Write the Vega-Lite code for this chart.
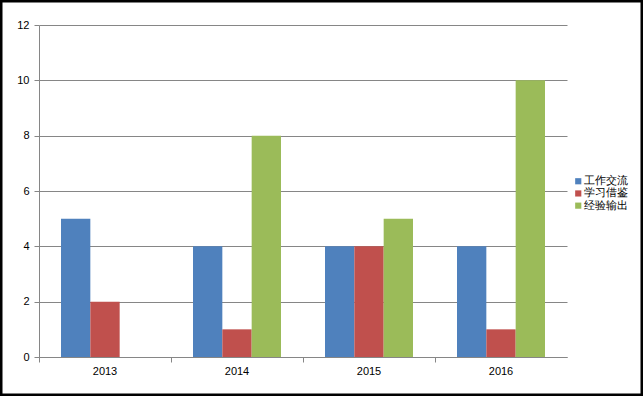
{
  "$schema": "https://vega.github.io/schema/vega-lite/v6.json",
  "width": 528,
  "height": 332,
  "autosize": {"type": "none"},
  "padding": {"left": 39, "top": 25, "right": 76, "bottom": 39},
  "background": "white",
  "config": {
    "view": {"stroke": null},
    "font": "Liberation Sans",
    "axis": {"labelFont": "Liberation Sans", "labelFontSize": 11, "labelColor": "#000000", "domainColor": "#868686", "tickColor": "#868686", "gridColor": "#868686", "gridOpacity": 1, "domainWidth": 1, "tickWidth": 1}
  },
  "datasets": {
    "bars": [
      {"year": "2013", "series": "工作交流", "value": 5},
      {"year": "2013", "series": "学习借鉴", "value": 2},
      {"year": "2014", "series": "工作交流", "value": 4},
      {"year": "2014", "series": "学习借鉴", "value": 1},
      {"year": "2014", "series": "经验输出", "value": 8},
      {"year": "2015", "series": "工作交流", "value": 4},
      {"year": "2015", "series": "学习借鉴", "value": 4},
      {"year": "2015", "series": "经验输出", "value": 5},
      {"year": "2016", "series": "工作交流", "value": 4},
      {"year": "2016", "series": "学习借鉴", "value": 1},
      {"year": "2016", "series": "经验输出", "value": 10}
    ]
  },
  "layer": [
    {
      "data": {"values": [{"frame": 1}]},
      "mark": {"type": "rect", "fill": null, "stroke": "#000000", "strokeWidth": 2.5},
      "encoding": {
        "x": {"value": -37.75},
        "x2": {"value": 602.75},
        "y": {"value": -23.75},
        "y2": {"value": 369.75}
      }
    },
    {
      "data": {"name": "bars"},
      "mark": {"type": "bar"},
      "encoding": {
        "x": {
          "field": "year",
          "type": "nominal",
          "scale": {"paddingInner": 0, "paddingOuter": 0},
          "axis": {"title": null, "labelAngle": 0, "bandPosition": 0, "tickSize": 5, "labelPadding": 3, "grid": false}
        },
        "xOffset": {
          "field": "series",
          "type": "nominal",
          "scale": {"domain": ["工作交流", "学习借鉴", "经验输出"], "paddingInner": 0, "paddingOuter": 0.75}
        },
        "y": {
          "field": "value",
          "type": "quantitative",
          "scale": {"domain": [0, 12], "nice": false},
          "axis": {"title": null, "values": [0, 2, 4, 6, 8, 10, 12], "grid": true, "tickSize": 5, "labelPadding": 5}
        },
        "color": {
          "field": "series",
          "type": "nominal",
          "scale": {"domain": ["工作交流", "学习借鉴", "经验输出"], "range": ["#4F81BD", "#C0504D", "#9BBB59"]},
          "legend": {"title": null, "orient": "none", "legendX": 534, "legendY": 151, "symbolType": "square", "symbolSize": 38, "symbolStrokeWidth": 0, "labelFont": "Liberation Sans", "labelFontSize": 10.5, "labelColor": "#000000", "rowPadding": 1.2, "labelOffset": 0, "labelBaseline": "middle"}
        }
      }
    }
  ]
}
